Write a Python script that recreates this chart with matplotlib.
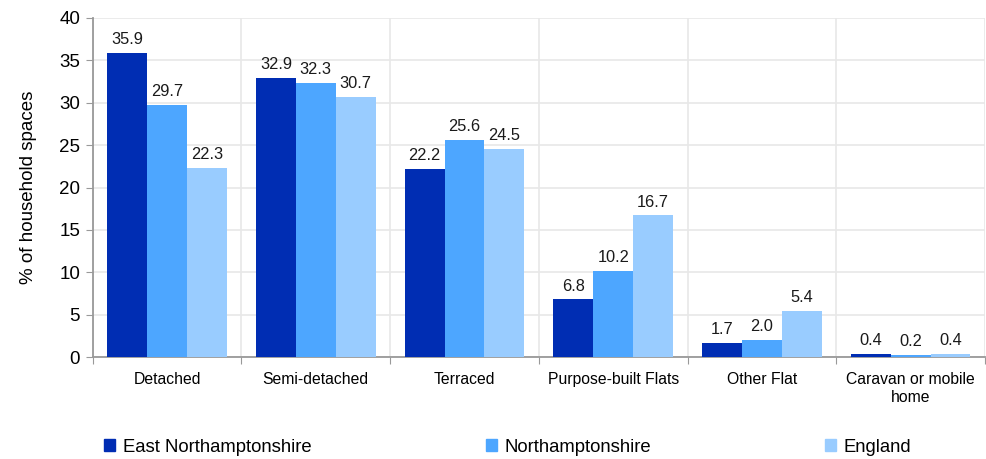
import numpy as np
import matplotlib.pyplot as plt
from matplotlib.patches import Patch

plt.rcParams['font.family'] = ['Liberation Sans', 'DejaVu Sans']

categories = ['Detached', 'Semi-detached', 'Terraced', 'Purpose-built Flats',
              'Other Flat', 'Caravan or mobile\nhome']
series_names = ['East Northamptonshire', 'Northamptonshire', 'England']
east_northants = [35.9, 32.9, 22.2, 6.8, 1.7, 0.4]
northants = [29.7, 32.3, 25.6, 10.2, 2.0, 0.2]
england = [22.3, 30.7, 24.5, 16.7, 5.4, 0.4]
colors = ['#002DB3', '#4DA6FF', '#99CCFF']

fig = plt.figure(figsize=(9.86, 4.59), dpi=100)
ax = fig.add_axes([0.094, 0.222, 0.905, 0.739])

x = np.arange(len(categories))
w = 0.268
for i, (vals, c) in enumerate(zip([east_northants, northants, england], colors)):
    bars = ax.bar(x + (i - 1) * w, vals, w, color=c, zorder=3, label=series_names[i])
    for b, v in zip(bars, vals):
        ax.text(b.get_x() + b.get_width() / 2, v + 0.7, f'{v:.1f}',
                ha='center', va='bottom', fontsize=11.8, color='#1a1a1a')

ax.set_xlim(-0.5, len(categories) - 0.5)
ax.set_ylim(0, 40)
ax.set_yticks(np.arange(0, 41, 5))
ax.tick_params(axis='y', labelsize=13.5, length=5, color='#999999', pad=4)

# category boundaries as major ticks / gridlines, labels as minor ticks
ax.set_xticks(np.arange(-0.5, len(categories), 1))
ax.set_xticklabels([])
ax.set_xticks(x, minor=True)
ax.set_xticklabels(categories, minor=True, fontsize=11.3)
ax.tick_params(axis='x', which='major', length=5, color='#999999')
ax.tick_params(axis='x', which='minor', length=0, pad=11)

ax.grid(True, color='#E8E8E8', linewidth=1.2, zorder=0)
for s in ['top', 'right']:
    ax.spines[s].set_visible(False)
for s in ['left', 'bottom']:
    ax.spines[s].set_color('#999999')
    ax.spines[s].set_linewidth(1.3)

ax.set_ylabel('% of household spaces', fontsize=13.5, labelpad=16)

handles = [Patch(color=c) for c in colors]
fig.legend(handles, series_names, loc='center left', bbox_to_anchor=(0.089, 0.026),
           ncol=3, frameon=False, fontsize=13.3, handlelength=0.6, handleheight=0.6,
           handletextpad=0.43, columnspacing=9.4)

fig.savefig('out.png', dpi=100)
